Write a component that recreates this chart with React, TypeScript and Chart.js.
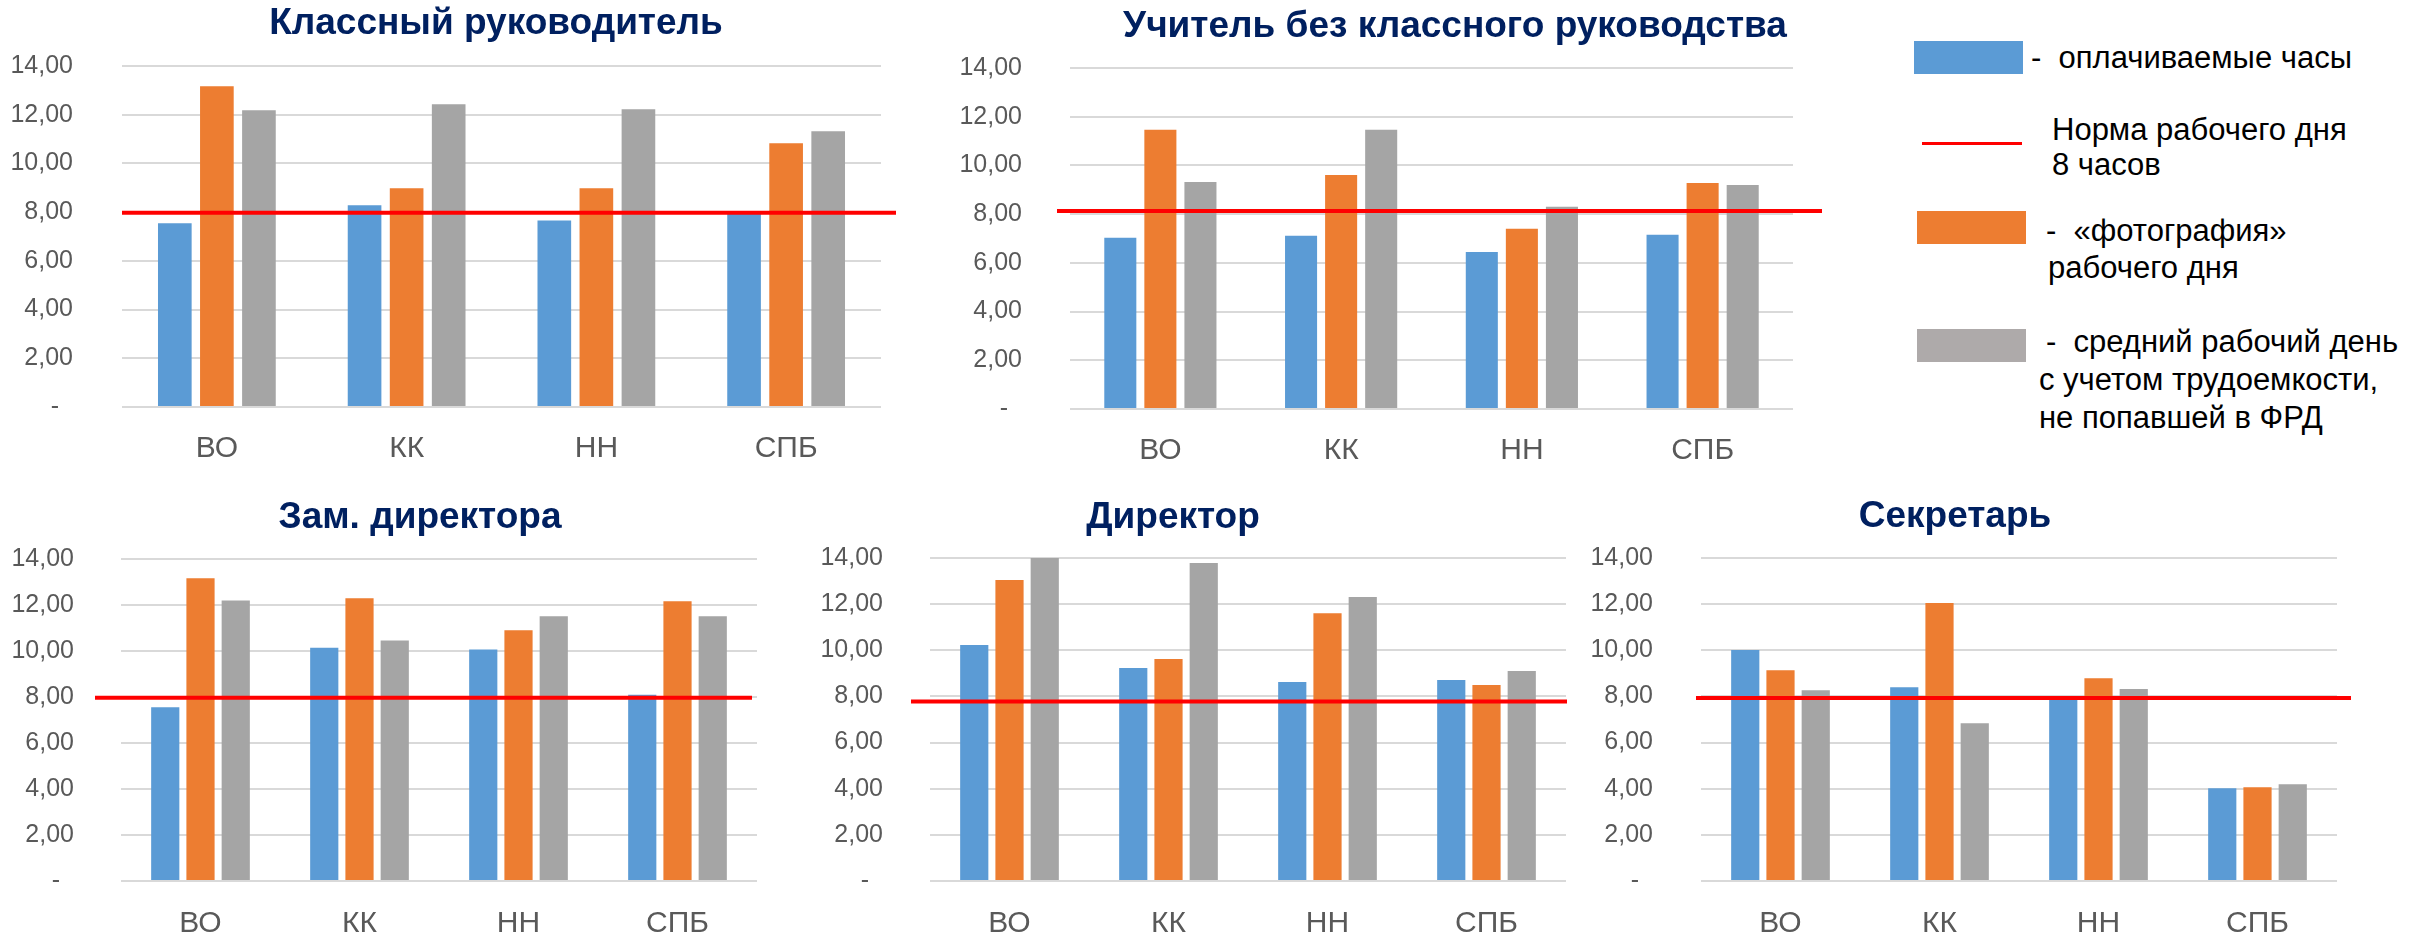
import React, { useEffect, useRef } from 'react';
import { Chart, registerables } from 'chart.js';

Chart.register(...registerables);

// ---------- data ----------
const categories = ['ВО', 'КК', 'НН', 'СПБ'];
const yTickLabels = ['-  ', '2,00', '4,00', '6,00', '8,00', '10,00', '12,00', '14,00'];
const seriesNames = ['оплачиваемые часы', '«фотография» рабочего дня', 'средний рабочий день с учетом трудоемкости, не попавшей в ФРД'];

const classTeacherPaid = [7.54, 8.28, 7.66, 7.95];
const classTeacherPhoto = [13.17, 8.98, 8.98, 10.83];
const classTeacherAvg = [12.18, 12.43, 12.22, 11.32];

const teacherPaid = [7.03, 7.11, 6.45, 7.15];
const teacherPhoto = [11.46, 9.61, 7.4, 9.28];
const teacherAvg = [9.32, 11.46, 8.3, 9.2];

const deputyPaid = [7.55, 10.14, 10.07, 8.1];
const deputyPhoto = [13.16, 12.29, 10.9, 12.16];
const deputyAvg = [12.2, 10.46, 11.51, 11.51];

const directorPaid = [10.23, 9.23, 8.62, 8.71];
const directorPhoto = [13.05, 9.62, 11.61, 8.49];
const directorAvg = [14.0, 13.78, 12.31, 9.1];

const secretaryPaid = [10.01, 8.4, 8.01, 4.02];
const secretaryPhoto = [9.14, 12.05, 8.79, 4.06];
const secretaryAvg = [8.27, 6.84, 8.32, 4.19];

// norm line (8 hours) as drawn in each panel
const normValues = [7.98, 8.13, 7.97, 7.78, 7.93];

const panelTitles = ['Классный руководитель', 'Учитель без классного руководства', 'Зам. директора', 'Директор', 'Секретарь'];

// ---------- style / layout ----------
const COLORS = ['#5b9bd5', '#ed7d31', '#a5a5a5'];
const FONT = "'Liberation Sans', Arial, sans-serif";
const Y_AXIS_W = 110;
const PAD_TOP = 80;
const PAD_RIGHT = 35;
const X_AXIS_H = 70;

const panels = [
  { data: [classTeacherPaid, classTeacherPhoto, classTeacherAvg], gridL: 122, gridR: 881, gridT: 66, gridB: 407, tickPad: 49, xPad: 16, lineExtL: 0, lineExtR: 15, titleX: 496, titleBase: 34 },
  { data: [teacherPaid, teacherPhoto, teacherAvg], gridL: 1070, gridR: 1793, gridT: 68, gridB: 409, tickPad: 48, xPad: 16, lineExtL: 13, lineExtR: 29, titleX: 1455, titleBase: 37 },
  { data: [deputyPaid, deputyPhoto, deputyAvg], gridL: 121, gridR: 757, gridT: 559, gridB: 881, tickPad: 47, xPad: 17, lineExtL: 26, lineExtR: -5, titleX: 420, titleBase: 528 },
  { data: [directorPaid, directorPhoto, directorAvg], gridL: 930, gridR: 1566, gridT: 558, gridB: 881, tickPad: 47, xPad: 17, lineExtL: 19, lineExtR: 1, titleX: 1173, titleBase: 528 },
  { data: [secretaryPaid, secretaryPhoto, secretaryAvg], gridL: 1701, gridR: 2337, gridT: 558, gridB: 881, tickPad: 48, xPad: 17, lineExtL: 5, lineExtR: 14, titleX: 1955, titleBase: 527 },
];

const normLinePlugin = {
  id: 'normLine',
  afterDatasetsDraw(chart: any, _args: any, opts: any) {
    const { ctx, chartArea, scales } = chart;
    const py = scales.y.getPixelForValue(opts.value);
    ctx.save();
    ctx.strokeStyle = opts.color;
    ctx.lineWidth = opts.width;
    ctx.beginPath();
    ctx.moveTo(chartArea.left - opts.extLeft, py);
    ctx.lineTo(chartArea.right + opts.extRight, py);
    ctx.stroke();
    ctx.restore();
  },
};

function Panel({ idx }: { idx: number }) {
  const ref = useRef<HTMLCanvasElement | null>(null);
  const p = panels[idx];
  const left = p.gridL - Y_AXIS_W;
  const top = p.gridT - PAD_TOP;
  const width = p.gridR - p.gridL + Y_AXIS_W + PAD_RIGHT;
  const height = p.gridB - p.gridT + PAD_TOP + X_AXIS_H;

  useEffect(() => {
    if (!ref.current) return;
    const chart = new Chart(ref.current, {
      type: 'bar',
      data: {
        labels: categories,
        datasets: p.data.map((vals, i) => ({
          label: seriesNames[i],
          data: vals,
          backgroundColor: COLORS[i],
          borderWidth: 0,
          categoryPercentage: 0.665,
          barPercentage: 0.8,
        })),
      },
      options: {
        animation: false,
        responsive: false,
        devicePixelRatio: 1,
        layout: { padding: { top: PAD_TOP, right: PAD_RIGHT, left: 0, bottom: 0 } },
        plugins: {
          legend: { display: false },
          tooltip: { enabled: false },
          title: { display: false },
          normLine: { value: normValues[idx], color: '#ff0000', width: 4, extLeft: p.lineExtL, extRight: p.lineExtR },
        } as any,
        scales: {
          x: {
            grid: { display: false },
            border: { display: false },
            ticks: { color: '#595959', font: { family: FONT, size: 30 }, padding: p.xPad, maxRotation: 0 },
            afterFit: (s: any) => { s.height = X_AXIS_H; },
          },
          y: {
            min: 0,
            max: 14,
            ticks: {
              stepSize: 2,
              color: '#595959',
              font: { family: FONT, size: 25 },
              padding: p.tickPad,
              callback: (v: any) => yTickLabels[Math.round(Number(v) / 2)] ?? '',
            },
            grid: { color: '#d9d9d9', lineWidth: 2, drawTicks: false },
            border: { display: false },
            afterFit: (s: any) => { s.width = Y_AXIS_W; },
          },
        },
      },
      plugins: [normLinePlugin],
    } as any);
    return () => chart.destroy();
  }, [idx]);

  return (
    <canvas
      ref={ref}
      width={width}
      height={height}
      style={{ position: 'absolute', left, top, width, height }}
    />
  );
}

const TITLE_SIZE = 37;
const LEG_SIZE = 31;

function Title({ idx }: { idx: number }) {
  const p = panels[idx];
  return (
    <div
      style={{
        position: 'absolute',
        left: p.titleX - 400,
        width: 800,
        top: p.titleBase - 0.8465 * TITLE_SIZE,
        textAlign: 'center',
        fontFamily: FONT,
        fontWeight: 'bold',
        fontSize: TITLE_SIZE,
        lineHeight: `${TITLE_SIZE}px`,
        color: '#002060',
        whiteSpace: 'nowrap',
      }}
    >
      {panelTitles[idx]}
    </div>
  );
}

function LegText({ x, base, text }: { x: number; base: number; text: string }) {
  return (
    <div
      style={{
        position: 'absolute',
        left: x,
        top: base - 0.8465 * LEG_SIZE,
        fontFamily: FONT,
        fontSize: LEG_SIZE,
        lineHeight: `${LEG_SIZE}px`,
        color: '#000000',
        whiteSpace: 'pre',
      }}
    >
      {text}
    </div>
  );
}

function Legend() {
  return (
    <>
      <div style={{ position: 'absolute', left: 1914, top: 41, width: 109, height: 33, background: COLORS[0] }} />
      <LegText x={2031} base={68} text={'-  оплачиваемые часы'} />
      <div style={{ position: 'absolute', left: 1922, top: 142, width: 100, height: 3, background: '#ff0000' }} />
      <LegText x={2052} base={140} text={'Норма рабочего дня'} />
      <LegText x={2052} base={175} text={'8 часов'} />
      <div style={{ position: 'absolute', left: 1917, top: 211, width: 109, height: 33, background: COLORS[1] }} />
      <LegText x={2046} base={241} text={'-  «фотография»'} />
      <LegText x={2048} base={278} text={'рабочего дня'} />
      <div style={{ position: 'absolute', left: 1917, top: 329, width: 109, height: 33, background: '#aeaaaa' }} />
      <LegText x={2046} base={352} text={'-  средний рабочий день'} />
      <LegText x={2039} base={390} text={'с учетом трудоемкости,'} />
      <LegText x={2039} base={428} text={'не попавшей в ФРД'} />
    </>
  );
}

export default function App() {
  return (
    <div style={{ position: 'absolute', left: 0, top: 0, width: 2415, height: 935, overflow: 'hidden', background: '#ffffff' }}>
      {panels.map((_, i) => (
        <Panel key={`p${i}`} idx={i} />
      ))}
      {panels.map((_, i) => (
        <Title key={`t${i}`} idx={i} />
      ))}
      <Legend />
    </div>
  );
}
